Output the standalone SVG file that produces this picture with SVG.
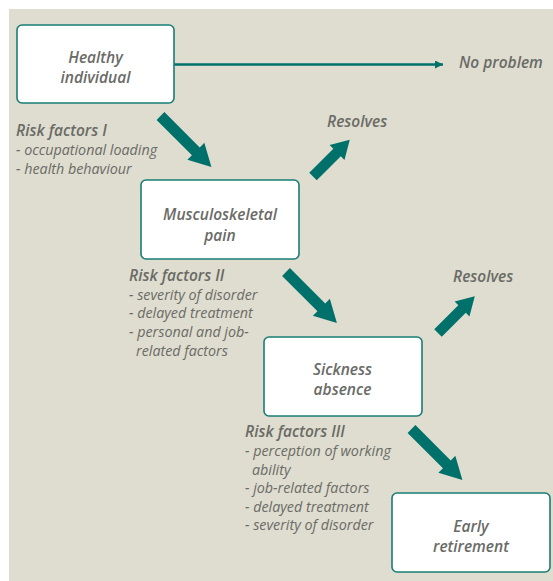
<svg xmlns="http://www.w3.org/2000/svg" width="553" height="581" viewBox="0 0 553 581">
  <style>
    .bg { fill: #dfddcf; }
    .box { fill: #ffffff; stroke: #197d76; stroke-width: 1.6; }
    .lbl { font-family: "Open Sans", "Noto Sans", sans-serif; font-style: italic; font-weight: 600; font-size: 15.5px; fill: #6a6b67; }
    .mid { text-anchor: middle; }
    .item { font-family: "Open Sans", "Noto Sans", sans-serif; font-style: italic; font-weight: 400; font-size: 14.3px; fill: #6a6b67; }
    .big { fill: #00716a; }
    .line { stroke: #00716a; stroke-width: 2.6; fill: none; }
  </style>
  <defs>
    <path id="arrowLong" d="M0,-5.5 L50,-5.5 L50,-12 L72,0 L50,12 L50,5.5 L0,5.5 Z"/>
    <path id="arrowShort" d="M0,-5.3 L34,-5.3 L34,-10.5 L52,0 L34,10.5 L34,5.3 L0,5.3 Z"/>
    <marker id="tip" viewBox="0 0 8 8" refX="8" refY="4" markerWidth="8" markerHeight="8" markerUnits="userSpaceOnUse" orient="auto">
      <path d="M0,0 L8,4 L0,8 Z" fill="#00716a"/>
    </marker>
  </defs>

  <rect class="bg" x="9" y="9" width="544" height="572"/>

  <!-- connectors -->
  <g id="connectors">
    <line class="line" x1="174" y1="64.5" x2="443" y2="64.5" marker-end="url(#tip)"/>
    <use href="#arrowLong" class="big" transform="translate(160.5,116) rotate(45)"/>
    <use href="#arrowShort" class="big" transform="translate(313,176.5) rotate(-45)"/>
    <use href="#arrowLong" class="big" transform="translate(286,272) rotate(45)"/>
    <use href="#arrowShort" class="big" transform="translate(438,333) rotate(-45)"/>
    <use href="#arrowLong" class="big" transform="translate(411.5,429) rotate(45)"/>
  </g>

  <g id="healthy">
    <rect class="box" x="17" y="25" width="157" height="78" rx="5"/>
    <text class="lbl mid" x="95.5" y="63">Healthy</text>
    <text class="lbl mid" x="95.5" y="83">individual</text>
  </g>

  <g id="no-problem">
    <text class="lbl" x="459" y="68">No problem</text>
  </g>

  <g id="risk-1">
    <text class="lbl" x="16" y="136">Risk factors I</text>
    <text class="item" x="16" y="155">- occupational loading</text>
    <text class="item" x="16" y="173.5">- health behaviour</text>
  </g>

  <g id="resolves-1">
    <text class="lbl" x="327" y="127">Resolves</text>
  </g>

  <g id="pain">
    <rect class="box" x="141" y="180" width="158" height="79" rx="5"/>
    <text class="lbl mid" x="220" y="220">Musculoskeletal</text>
    <text class="lbl mid" x="220" y="241">pain</text>
  </g>

  <g id="risk-2">
    <text class="lbl" x="129" y="281">Risk factors II</text>
    <text class="item" x="129" y="299.5">- severity of disorder</text>
    <text class="item" x="129" y="318">- delayed treatment</text>
    <text class="item" x="129" y="337">- personal and job-</text>
    <text class="item" x="136" y="356">related factors</text>
  </g>

  <g id="resolves-2">
    <text class="lbl" x="453" y="282">Resolves</text>
  </g>

  <g id="sickness">
    <rect class="box" x="264" y="337" width="158" height="79" rx="5"/>
    <text class="lbl mid" x="342.5" y="375">Sickness</text>
    <text class="lbl mid" x="342.5" y="395">absence</text>
  </g>

  <g id="risk-3">
    <text class="lbl" x="245" y="437">Risk factors III</text>
    <text class="item" x="245" y="456">- perception of working</text>
    <text class="item" x="252" y="474.5">ability</text>
    <text class="item" x="245" y="493">- job-related factors</text>
    <text class="item" x="245" y="511.5">- delayed treatment</text>
    <text class="item" x="245" y="530">- severity of disorder</text>
  </g>

  <g id="retirement">
    <rect class="box" x="392" y="493" width="158" height="79" rx="5"/>
    <text class="lbl mid" x="471" y="532">Early</text>
    <text class="lbl mid" x="471" y="552">retirement</text>
  </g>
</svg>
